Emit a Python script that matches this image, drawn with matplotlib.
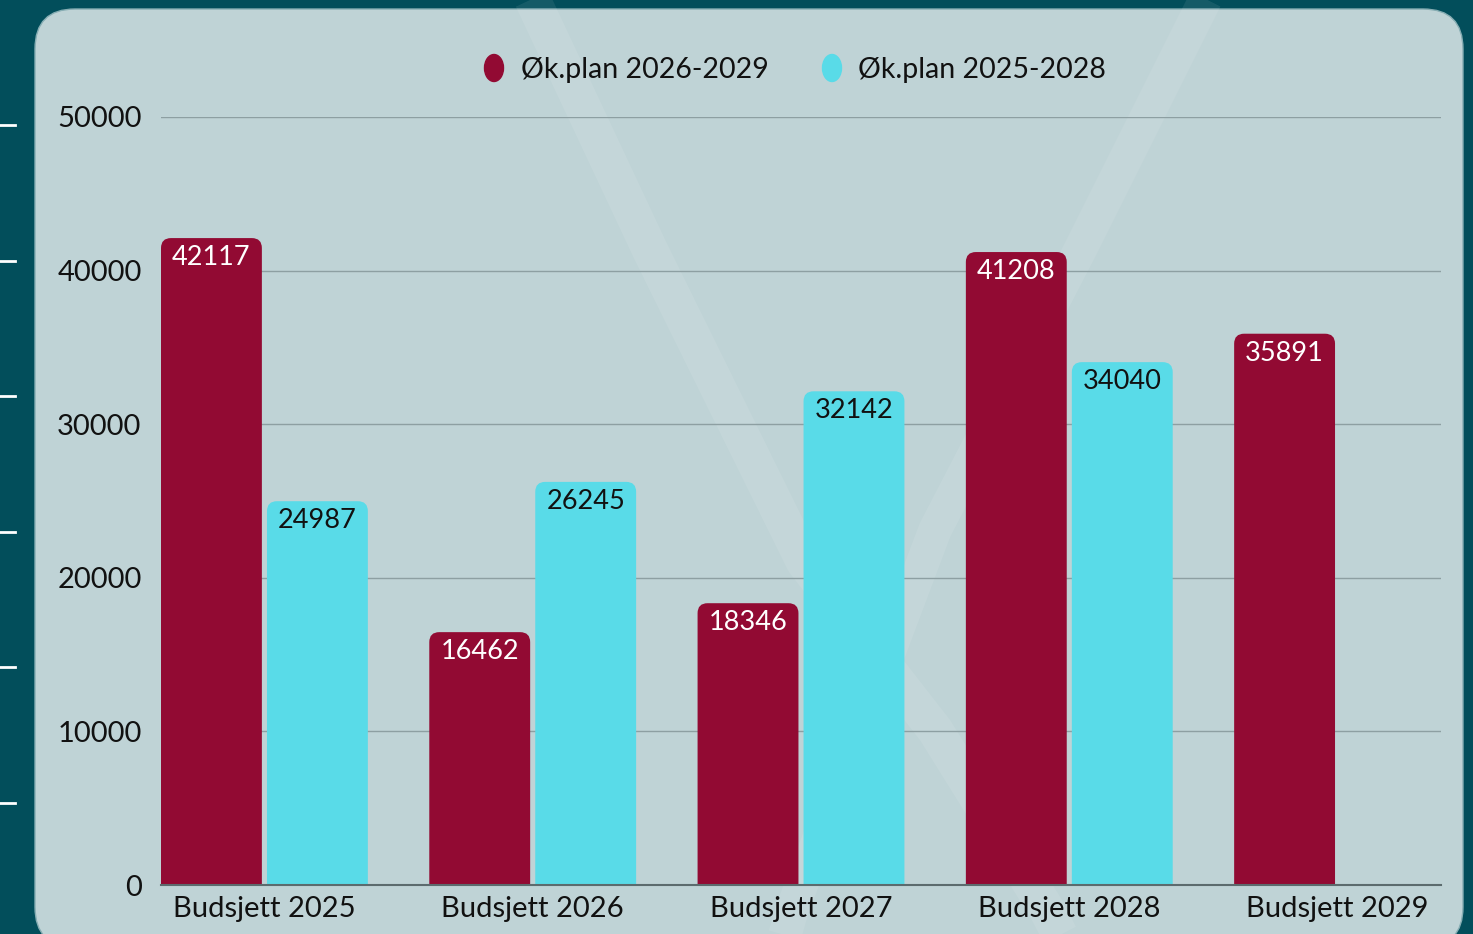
import numpy as np
import matplotlib
matplotlib.use('Agg')
import matplotlib.pyplot as plt
from matplotlib.path import Path
from matplotlib.patches import PathPatch, FancyBboxPatch, Ellipse

# data
kategorier = ['Budsjett 2025', 'Budsjett 2026', 'Budsjett 2027', 'Budsjett 2028', 'Budsjett 2029']
serie_navn = ['Øk.plan 2026-2029', 'Øk.plan 2025-2028']
plan_2026_2029 = [42117, 16462, 18346, 41208, 35891]
plan_2025_2028 = [24987, 26245, 32142, 34040]
y_ticks = [0, 10000, 20000, 30000, 40000, 50000]

farge_bg = '#024e5b'
farge_panel = '#bfd3d6'
farge_rod = '#920a33'
farge_cyan = '#59dbe8'

plt.rcParams['font.family'] = ['Lato', 'DejaVu Sans']

W, H = 1473, 934
fig = plt.figure(figsize=(W / 100, H / 100), dpi=100, facecolor=farge_bg)

# bakgrunn i pikselkoordinater
bg = fig.add_axes([0, 0, 1, 1], zorder=0)
bg.set_xlim(0, W)
bg.set_ylim(H, 0)
bg.axis('off')

panel = FancyBboxPatch((35, 9), 1428, 938, boxstyle='round,pad=0,rounding_size=40',
                       facecolor=farge_panel, edgecolor='#86adb3', lw=1)
bg.add_patch(panel)

# de svake V-linjene
venstre = np.array([[528, -10], [650, 250], [804, 562], [935, 730], [1047, 910], [1065, 945]])
hoyre = np.array([[1210, -10], [1080, 250], [935, 530], [792, 910], [782, 945]])
for bane, lw in [(venstre, 26), (hoyre, 24)]:
    bg.plot(bane[:, 0], bane[:, 1], color='white', alpha=0.08, lw=lw,
            solid_capstyle='butt', solid_joinstyle='round')

# små hvite streker til venstre
for yy in [125, 261, 396, 532, 667, 803]:
    bg.plot([0, 15], [yy, yy], color='white', lw=2)

# legende
for (cx, tx), navn, farge in zip([(494, 521), (832, 858)], serie_navn, [farge_rod, farge_cyan]):
    bg.add_patch(Ellipse((cx, 68), 19, 27, color=farge))
    bg.text(tx, 70, navn, fontsize=20.5, color='#111111', va='center', ha='left')

# hovedaksene
ax = fig.add_axes([161 / W, 49 / H, 1280 / W, 768 / H], zorder=1)
ax.patch.set_alpha(0)

bredde = 0.376
avstand = 0.019
off = (bredde + avstand) / 2
x = np.arange(len(kategorier))

b1 = ax.bar(x - off, plan_2026_2029, bredde, color=farge_rod, zorder=3)
b2 = ax.bar(np.arange(len(plan_2025_2028)) + off, plan_2025_2028, bredde, color=farge_cyan, zorder=3)

ax.set_xlim(-off - bredde / 2, len(kategorier) - 1 + off + bredde / 2)
ax.set_ylim(0, 50000)

# avrundede hjørner på toppen
px_x = 1280 / (ax.get_xlim()[1] - ax.get_xlim()[0])
px_y = 768 / 50000
rx, ry = 10 / px_x, 10 / px_y


def rund_topp(rect, farge):
    x0, y0 = rect.get_x(), rect.get_y()
    x1, y1 = x0 + rect.get_width(), y0 + rect.get_height()
    verts = [(x0, y0), (x0, y1 - ry), (x0, y1), (x0 + rx, y1), (x1 - rx, y1),
             (x1, y1), (x1, y1 - ry), (x1, y0), (x0, y0)]
    codes = [Path.MOVETO, Path.LINETO, Path.CURVE3, Path.CURVE3, Path.LINETO,
             Path.CURVE3, Path.CURVE3, Path.LINETO, Path.CLOSEPOLY]
    rect.set_visible(False)
    ax.add_patch(PathPatch(Path(verts, codes), facecolor=farge, edgecolor='none', zorder=3))


for bars, farge, tekstfarge in [(b1, farge_rod, 'white'), (b2, farge_cyan, '#111111')]:
    for r in bars:
        rund_topp(r, farge)
        v = r.get_height()
        ax.annotate(f'{int(v)}', (r.get_x() + r.get_width() / 2, v), xytext=(0, -14),
                    textcoords='offset points', ha='center', va='center',
                    fontsize=19.5, color=tekstfarge, zorder=4)

ax.set_yticks(y_ticks)
ax.set_yticklabels([str(t) for t in y_ticks])
ax.set_xticks(x)
ax.set_xticklabels(kategorier)
ax.tick_params(axis='both', length=0, labelsize=21, labelcolor='#111111')
ax.tick_params(axis='y', pad=14)
ax.tick_params(axis='x', pad=8)

ax.yaxis.grid(True, color='#8d9fa2', lw=1, zorder=1)
ax.set_axisbelow(True)
for s in ['top', 'right', 'left']:
    ax.spines[s].set_visible(False)
ax.spines['bottom'].set_color('#5c6b6e')
ax.spines['bottom'].set_linewidth(1.5)
ax.spines['bottom'].set_zorder(5)

plt.savefig('out.png', dpi=100, facecolor=farge_bg)
plt.close()
